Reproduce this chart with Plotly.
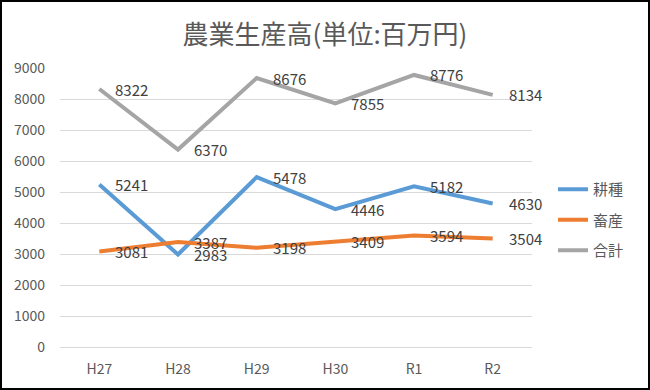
import plotly.graph_objects as go

categories = ["H27", "H28", "H29", "H30", "R1", "R2"]
kosyu = [5241, 2983, 5478, 4446, 5182, 4630]
chikusan = [3081, 3387, 3198, 3409, 3594, 3504]
goukei = [8322, 6370, 8676, 7855, 8776, 8134]
series_names = ["耕種", "畜産", "合計"]
colors = ["#5B9BD5", "#ED7D31", "#A5A5A5"]
y_ticks = list(range(0, 10000, 1000))

W, H = 650, 390
ML, MR, MT, MB = 60, 118, 68, 43
FONT = "Noto Sans CJK JP"
TXT = "#595959"

fig = go.Figure()
for name, vals, col in zip(series_names, [kosyu, chikusan, goukei], colors):
    fig.add_trace(go.Scatter(
        x=categories, y=vals, name=name, mode="lines",
        line=dict(color=col, width=4),
        legendgroup=name, cliponaxis=False,
    ))
    for c, v in zip(categories, vals):
        fig.add_annotation(x=c, y=v, text=str(v), showarrow=False,
                           xanchor="left", yanchor="middle", xshift=14,
                           font=dict(family=FONT, size=15, color="#404040"))

pw = W - ML - MR
ph = H - MT - MB
fig.add_shape(type="rect", xref="paper", yref="paper",
              x0=(1 - ML) / pw, x1=(W - 1 - ML) / pw,
              y0=-(MB - 1) / ph, y1=1 + (MT - 1) / ph,
              line=dict(color="black", width=2), fillcolor="rgba(0,0,0,0)", layer="above")

fig.update_layout(
    width=W, height=H,
    margin=dict(l=ML, r=MR, t=MT, b=MB),
    paper_bgcolor="white", plot_bgcolor="white",
    font=dict(family=FONT, color=TXT, size=14),
    title=dict(text="農業生産高(単位:百万円)", x=0.5, xref="container", xanchor="center",
               y=1 - 35 / H, yref="container", yanchor="middle",
               font=dict(family=FONT, size=26, color=TXT)),
    showlegend=True,
    legend=dict(x=(553 - ML) / pw, xanchor="left", y=(H - MB - 173) / ph, yanchor="top",
                traceorder="grouped", tracegroupgap=8,
                font=dict(family=FONT, size=15, color=TXT),
                bgcolor="rgba(0,0,0,0)"),
    xaxis=dict(type="category", range=[-0.5, 5.5], showgrid=False, showline=False,
               ticks="", ticklabelstandoff=12,
               tickfont=dict(family=FONT, size=14, color=TXT)),
    yaxis=dict(range=[0, 9000], tickvals=y_ticks, showgrid=True, gridcolor="#D9D9D9",
               gridwidth=1, zeroline=True, zerolinecolor="#D9D9D9", zerolinewidth=1,
               showline=False, ticks="", ticklabelstandoff=14,
               tickfont=dict(family=FONT, size=14, color=TXT)),
)

fig.write_html("out.html", config={"displayModeBar": False},
               post_script="document.body.style.margin='0';")
